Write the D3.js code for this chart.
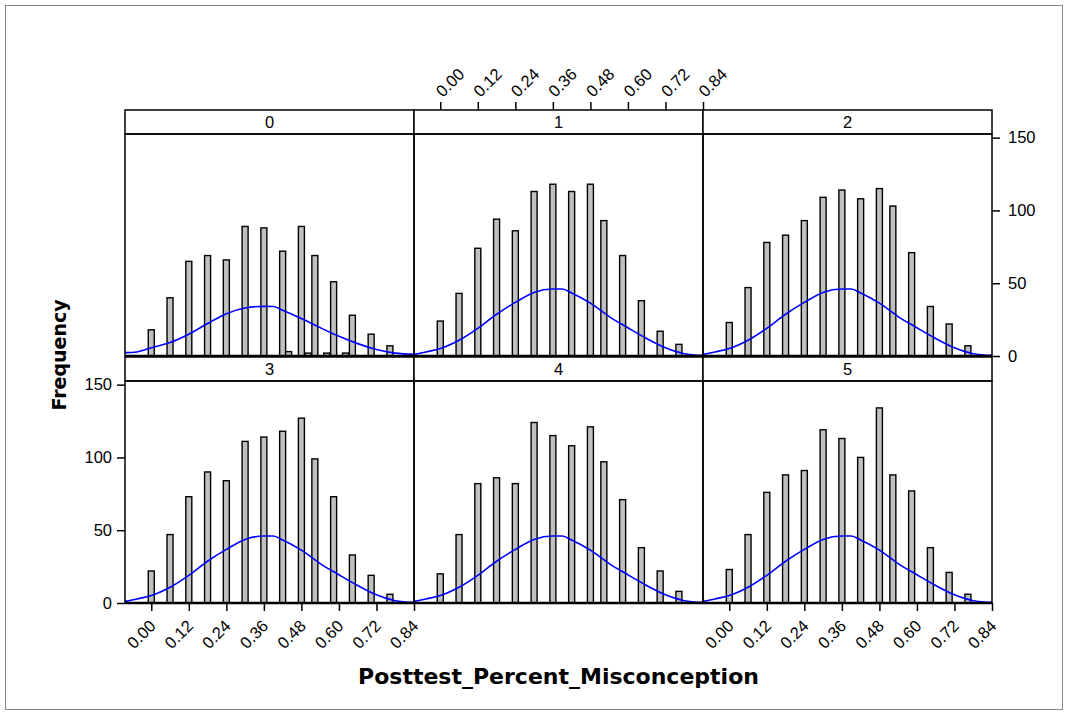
<!DOCTYPE html>
<html>
<head>
<meta charset="utf-8">
<script src="https://cdn.jsdelivr.net/npm/d3@7"></script>
<style>
  body { margin: 0; background: #fff; }
  svg { display: block; }
</style>
</head>
<body>
<div id="chart"></div>
<script>
// 数据：柱子位置和每个面板的频数
const panelNames = ["0", "1", "2", "3", "4", "5"];
const binX = [0, 0.06, 0.12, 0.18, 0.24, 0.30, 0.36, 0.42, 0.48, 0.523, 0.583, 0.643, 0.703, 0.763];
const counts0 = [18, 40, 65, 69, 66, 89, 88, 72, 89, 69, 51, 28, 15, 7];
const counts1 = [24, 43, 74, 94, 86, 113, 118, 113, 118, 93, 69, 38, 17, 8];
const counts2 = [23, 47, 78, 83, 93, 109, 114, 108, 115, 103, 71, 34, 22, 7];
const counts3 = [22, 47, 73, 90, 84, 111, 114, 118, 127, 99, 73, 33, 19, 6];
const counts4 = [20, 47, 82, 86, 82, 124, 115, 108, 121, 97, 71, 38, 22, 8];
const counts5 = [23, 47, 76, 88, 91, 119, 113, 100, 134, 88, 77, 38, 21, 6];
// 面板 0 里的几根很矮的柱子
const extraX0 = [0.439, 0.502, 0.561, 0.621];
const extraCounts0 = [3, 2, 2, 2];

// 正态曲线（从图上读出来的点）
const curveX = [-0.084, -0.046, 0, 0.06, 0.12, 0.18, 0.24, 0.30, 0.36, 0.39, 0.42, 0.48, 0.54, 0.60, 0.66, 0.72, 0.78, 0.84];
const curve0 = [2.3, 2.8, 5.7, 9.3, 15.0, 22.3, 29.1, 33.0, 34.1, 34.0, 31.4, 25.7, 19.5, 13.5, 8.5, 4.5, 2.0, 1.2];
const curveOther = [1.1, 2.8, 5.1, 10.8, 19.0, 28.7, 36.8, 43.7, 46.0, 46.0, 43.3, 36.3, 27.1, 19.4, 12.0, 5.6, 1.6, 0.4];

const xTicks = [0, 0.12, 0.24, 0.36, 0.48, 0.60, 0.72, 0.84];
const yTicks = [0, 50, 100, 150];

const xLabel = "Posttest_Percent_Misconception";
const yLabel = "Frequency";

const allCounts = [counts0, counts1, counts2, counts3, counts4, counts5];

function drawChart() {
    const width = 1068;
    const height = 715;
    const left = 125;
    const pw = 289;
    const stripH = 24;
    const ph = 222;
    const rowTop = [110, 357];
    const barW = 6;
    const font = "'Liberation Sans', Arial, sans-serif";

    const svg = d3.select("#chart")
        .append("svg")
        .attr("width", width)
        .attr("height", height);

    svg.append("rect")
        .attr("x", 5.5).attr("y", 5.5)
        .attr("width", width - 11).attr("height", height - 11)
        .attr("fill", "none")
        .attr("stroke", "#888");

    const x = d3.scaleLinear().domain([-0.084, 0.84]).range([0, pw]);
    const y = d3.scaleLinear().domain([0, 152.5]).range([ph, 0]);

    const line = d3.line()
        .x(d => x(d[0]))
        .y(d => y(d[1]))
        .curve(d3.curveMonotoneX);

    panelNames.forEach((name, i) => {
        const col = i % 3;
        const row = Math.floor(i / 3);
        const g = svg.append("g")
            .attr("transform", `translate(${left + col * pw},${rowTop[row]})`);

        // 条带
        g.append("rect")
            .attr("width", pw).attr("height", stripH)
            .attr("fill", "#fff")
            .attr("stroke", "#000")
            .attr("stroke-width", 1.5);
        g.append("text")
            .attr("x", pw / 2).attr("y", stripH / 2)
            .attr("dy", "0.36em")
            .attr("text-anchor", "middle")
            .attr("font-family", font)
            .attr("font-size", 16.5)
            .text(name);

        const plot = g.append("g").attr("transform", `translate(0,${stripH})`);

        // 柱子
        let bars = binX.map((v, j) => ({ x: v, n: allCounts[i][j] }));
        if (i === 0) {
            bars = bars.concat(extraX0.map((v, j) => ({ x: v, n: extraCounts0[j] })));
        }
        plot.selectAll("rect.bar")
            .data(bars)
            .enter()
            .append("rect")
            .attr("class", "bar")
            .attr("x", d => x(d.x) - barW / 2)
            .attr("y", d => y(d.n))
            .attr("width", barW)
            .attr("height", d => y(0) - y(d.n))
            .attr("fill", "#c0c0c0")
            .attr("stroke", "#000")
            .attr("stroke-width", 1.4);

        // 曲线
        const cy = i === 0 ? curve0 : curveOther;
        plot.append("path")
            .datum(curveX.map((v, j) => [v, cy[j]]))
            .attr("fill", "none")
            .attr("stroke", "#0000ff")
            .attr("stroke-width", 1.6)
            .attr("d", line);

        // 边框
        plot.append("rect")
            .attr("width", pw).attr("height", ph)
            .attr("fill", "none")
            .attr("stroke", "#000")
            .attr("stroke-width", 1.5);
        plot.append("line")
            .attr("x1", 0).attr("x2", pw)
            .attr("y1", ph).attr("y2", ph)
            .attr("stroke", "#000")
            .attr("stroke-width", 2.5);

        // 坐标轴（lattice 交替排列）
        if (i === 3 || i === 5) {
            plot.append("g")
                .attr("transform", `translate(0,${ph})`)
                .call(d3.axisBottom(x).tickValues(xTicks).tickFormat(d3.format(".2f")).tickSize(8).tickSizeOuter(0))
                .call(a => a.select(".domain").remove())
                .call(a => a.selectAll(".tick line").attr("stroke-width", 1.5))
                .call(a => a.selectAll(".tick text")
                    .attr("font-family", font)
                    .attr("font-size", 16.5)
                    .attr("fill", "#000")
                    .attr("text-anchor", "end")
                    .attr("y", 0).attr("dy", 0)
                    .attr("transform", "translate(5,24) rotate(-45)"));
        }
        if (i === 1) {
            g.append("g")
                .call(d3.axisTop(x).tickValues(xTicks).tickFormat(d3.format(".2f")).tickSize(8).tickSizeOuter(0))
                .call(a => a.select(".domain").remove())
                .call(a => a.selectAll(".tick line").attr("stroke-width", 1.5))
                .call(a => a.selectAll(".tick text")
                    .attr("font-family", font)
                    .attr("font-size", 16.5)
                    .attr("fill", "#000")
                    .attr("text-anchor", "start")
                    .attr("y", 0).attr("dy", 0)
                    .attr("transform", "translate(2,-12) rotate(-45)"));
        }
        if (i === 3) {
            plot.append("g")
                .call(d3.axisLeft(y).tickValues(yTicks).tickSize(8).tickSizeOuter(0))
                .call(a => a.select(".domain").remove())
                .call(a => a.selectAll(".tick line").attr("stroke-width", 1.5))
                .call(a => a.selectAll(".tick text")
                    .attr("font-family", font)
                    .attr("font-size", 16.5)
                    .attr("fill", "#000")
                    .attr("x", -13));
        }
        if (i === 2) {
            plot.append("g")
                .attr("transform", `translate(${pw},0)`)
                .call(d3.axisRight(y).tickValues(yTicks).tickSize(8).tickSizeOuter(0))
                .call(a => a.select(".domain").remove())
                .call(a => a.selectAll(".tick line").attr("stroke-width", 1.5))
                .call(a => a.selectAll(".tick text")
                    .attr("font-family", font)
                    .attr("font-size", 16.5)
                    .attr("fill", "#000")
                    .attr("x", 16));
        }
    });

    // 轴标题
    svg.append("text")
        .attr("x", left + 1.5 * pw)
        .attr("y", 684)
        .attr("text-anchor", "middle")
        .attr("font-family", "'DejaVu Sans', Verdana, sans-serif")
        .attr("font-weight", "bold")
        .attr("font-size", 22)
        .text(xLabel);

    svg.append("text")
        .attr("transform", "translate(66,355) rotate(-90)")
        .attr("text-anchor", "middle")
        .attr("font-family", "'DejaVu Sans', Verdana, sans-serif")
        .attr("font-weight", "bold")
        .attr("font-size", 19)
        .text(yLabel);
}

drawChart();
</script>
</body>
</html>
